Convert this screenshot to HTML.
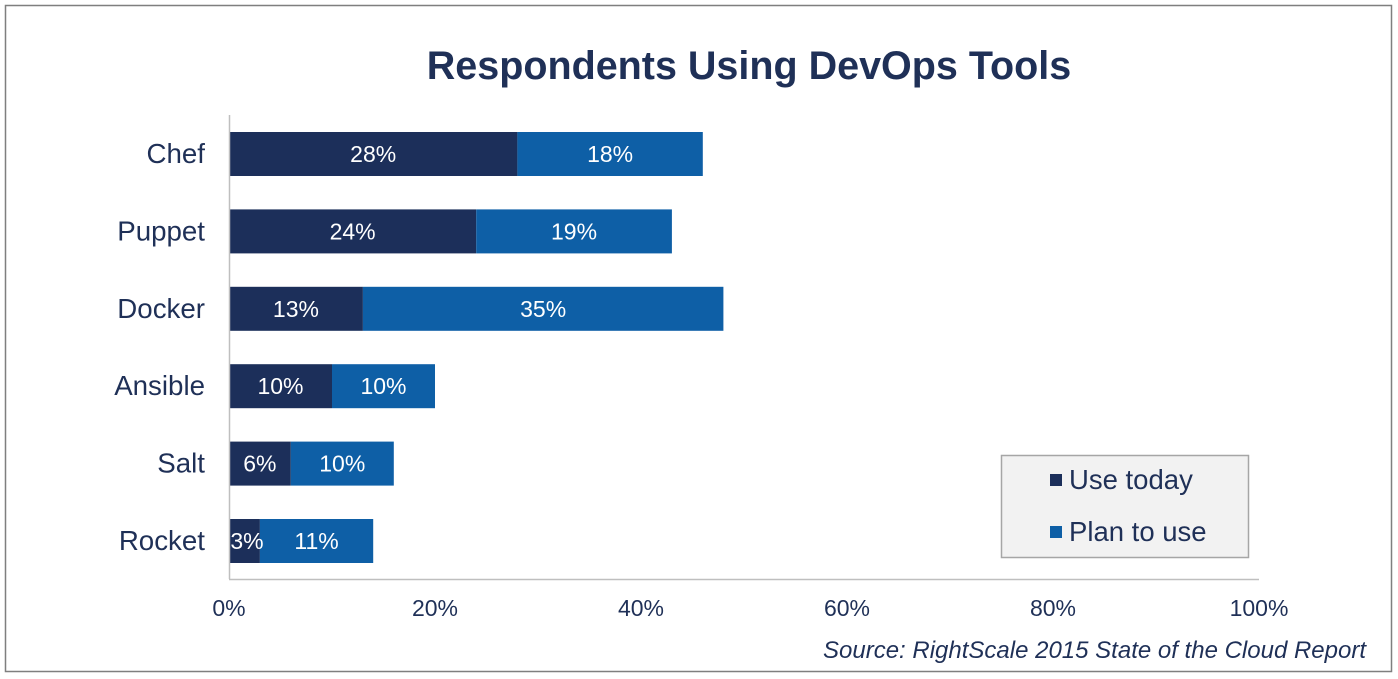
<!DOCTYPE html>
<html><head><meta charset="utf-8">
<style>
body{margin:0;background:#fff;}
svg{display:block;font-family:"Liberation Sans",Arial,sans-serif;}
</style></head>
<body>
<svg id="chart" width="1398" height="679" viewBox="0 0 1398 679">
<rect x="5.5" y="5.5" width="1386" height="666" fill="#fff" stroke="#7f7f7f" stroke-width="1.5"/>
<text x="749" y="79" text-anchor="middle" font-size="39.5" font-weight="bold" fill="#1f3057">Respondents Using DevOps Tools</text>
<g id="bars"></g>
<line x1="229.5" y1="115" x2="229.5" y2="579" stroke="#bfbfbf" stroke-width="1.5"/>
<line x1="229" y1="579.5" x2="1259" y2="579.5" stroke="#bfbfbf" stroke-width="1.5"/>
<g id="ticks"></g>
<g>
<rect x="1001.5" y="455.5" width="247" height="102" fill="#f2f2f2" stroke="#a6a6a6" stroke-width="1.5"/>
<rect x="1050" y="474" width="12" height="12" fill="#1c2f5a"/>
<text x="1069" y="489" font-size="27.5" fill="#1f3057">Use today</text>
<rect x="1050" y="526" width="12" height="12" fill="#0e5fa6"/>
<text x="1069" y="541" font-size="27.5" fill="#1f3057">Plan to use</text>
</g>
<text x="1366" y="658" text-anchor="end" font-size="24" font-style="italic" fill="#1f3057">Source: RightScale 2015 State of the Cloud Report</text>
</svg>
<script>
const categories = ["Chef","Puppet","Docker","Ansible","Salt","Rocket"];
const useToday = [28,24,13,10,6,3];
const planToUse = [18,19,35,10,10,11];
const tickValues = [0,20,40,60,80,100];
const tickLabels = ["0%","20%","40%","60%","80%","100%"];

const NS="http://www.w3.org/2000/svg";
const x0=229, x1=1259, y0=154, step=77.4, bh=44;
const xs=v=>x0+(v/100)*(x1-x0);
const ys=i=>y0+i*step;
const bars=document.getElementById('bars');
const ticks=document.getElementById('ticks');
function mk(tag,attrs,parent,txt){const e=document.createElementNS(NS,tag);for(const k in attrs)e.setAttribute(k,attrs[k]);if(txt!==undefined)e.textContent=txt;parent.appendChild(e);return e;}
categories.forEach((c,i)=>{
  const cy=ys(i);
  const lab=mk('text',{x:205,y:cy+9,'text-anchor':'end','font-size':27.7,fill:'#1f3057'},bars,c);
  
  
  const a=mk('rect',{x:xs(0),y:cy-bh/2,width:xs(useToday[i])-xs(0),height:bh,fill:'#1c2f5a'},bars);
  
  
  const b=mk('rect',{x:xs(useToday[i]),y:cy-bh/2,width:xs(useToday[i]+planToUse[i])-xs(useToday[i]),height:bh,fill:'#0e5fa6'},bars);
  
  
  const t1=mk('text',{x:Math.max((xs(0)+xs(useToday[i]))/2,247),y:cy+8,'text-anchor':'middle','font-size':23,fill:'#fff'},bars,useToday[i]+'%');
  
  
  const t2=mk('text',{x:(xs(useToday[i])+xs(useToday[i]+planToUse[i]))/2,y:cy+8,'text-anchor':'middle','font-size':23,fill:'#fff'},bars,planToUse[i]+'%');
  
  
});
tickValues.forEach((v,i)=>{
  const t=mk('text',{x:xs(v),y:616,'text-anchor':'middle','font-size':23,fill:'#1f3057'},ticks,tickLabels[i]);
  
  
});
</script>
</body></html>
